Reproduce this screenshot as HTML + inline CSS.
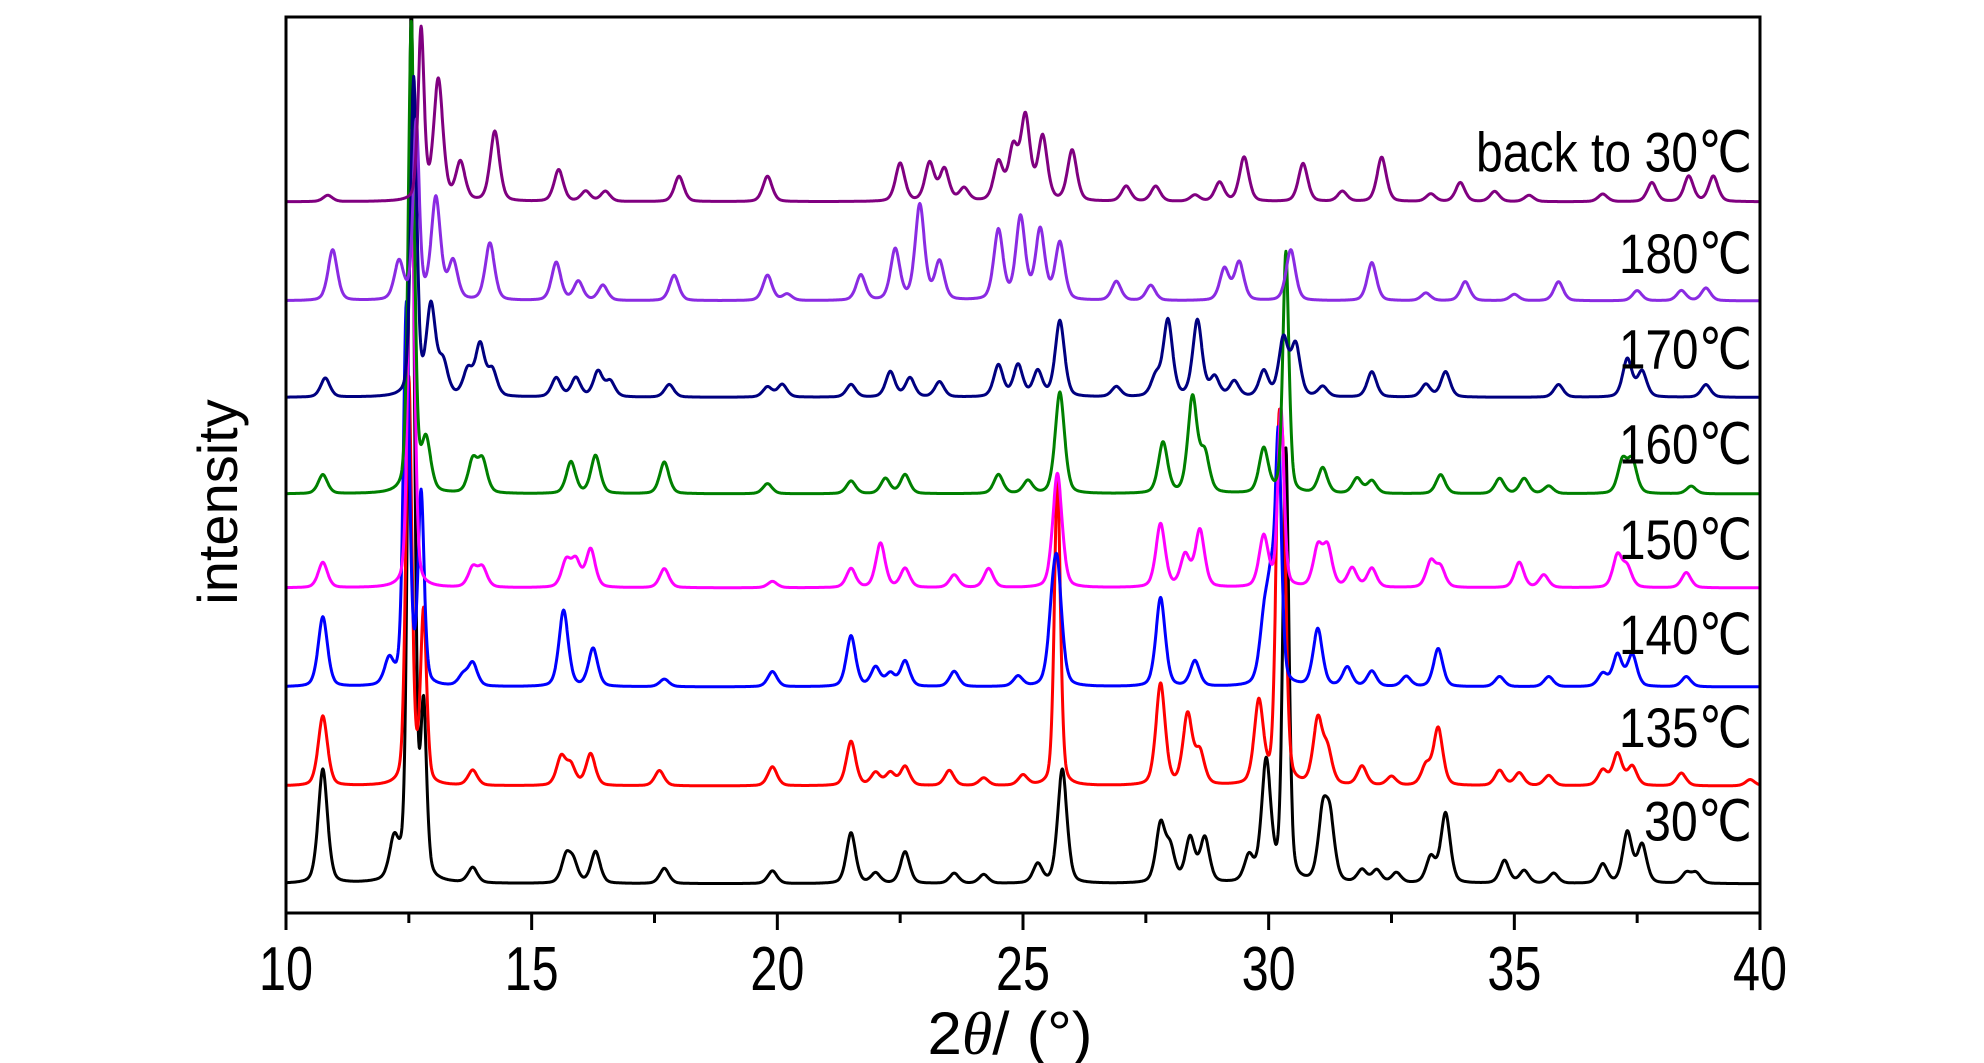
<!DOCTYPE html>
<html><head><meta charset="utf-8"><style>
html,body{margin:0;padding:0;background:#fff;}
svg{display:block;}
text{font-family:"Liberation Sans Narrow","Liberation Sans",sans-serif;fill:#000;}
</style></head><body>
<svg id="chart" width="1984" height="1063" viewBox="0 0 1984 1063" xmlns="http://www.w3.org/2000/svg">
<g id="series"></g>
<rect x="286" y="17" width="1474" height="896" fill="none" stroke="#000" stroke-width="3"/>
<g id="axis"></g>
<g id="labels"></g>
<text transform="translate(237,502) rotate(-90)" text-anchor="middle" font-size="56" style="font-family:'Liberation Sans',sans-serif">intensity</text>
<text x="1010" y="1054" text-anchor="middle" font-size="60" textLength="165" lengthAdjust="spacingAndGlyphs">2<tspan font-style="italic" style="font-family:'Liberation Serif',serif">θ</tspan>/ (°)</text>
</svg>
<script>
const xTicks = [10,15,20,25,30,35,40];
const seriesNames = ["30℃","135℃","140℃","150℃","160℃","170℃","180℃","back to 30℃"];
const seriesColors = ["#000000","#ff0000","#0000ff","#ff00ff","#008000","#000080","#8a2be2","#800080"];
const seriesOffsets = [23,100,178,256,330,406,482,560];
const peaks30 = [[10.75,90],[12.2,30],[12.55,690],[12.8,130],[13.8,12],[15.7,20],[15.85,15],[16.3,25],[17.7,12],[19.9,10],[21.5,40],[22.0,8],[22.6,25],[23.6,8],[24.2,7],[25.3,15],[25.8,90],[27.8,45],[28.0,25],[28.4,35],[28.7,35],[29.6,20],[29.95,95],[30.35,340],[31.1,50],[31.25,45],[31.9,10],[32.2,10],[32.6,8],[33.3,20],[33.6,55],[34.8,18],[35.2,10],[35.8,8],[36.8,15],[37.3,40],[37.6,30],[38.5,8],[38.7,8]];
const peaks135 = [[10.75,55],[12.5,320],[12.8,135],[13.8,12],[15.6,22],[15.8,15],[16.2,25],[17.6,12],[19.9,15],[21.5,35],[22.0,10],[22.3,10],[22.6,15],[23.5,12],[24.2,6],[25.0,8],[25.7,243],[27.8,80],[28.35,55],[28.6,25],[29.8,65],[30.2,225],[30.3,190],[31.0,50],[31.2,25],[31.9,15],[32.5,7],[33.2,15],[33.45,45],[34.7,12],[35.1,10],[35.7,8],[36.8,12],[37.1,25],[37.4,15],[38.4,10],[39.8,5]];
const peaks140 = [[10.75,55],[12.1,20],[12.45,300],[12.75,150],[13.6,8],[13.8,18],[15.65,60],[16.25,30],[17.7,6],[19.9,12],[21.5,40],[22.0,15],[22.3,10],[22.6,20],[23.6,12],[24.9,8],[25.6,40],[25.7,80],[27.8,70],[28.5,20],[29.9,40],[30.05,70],[30.2,180],[31.0,45],[31.6,15],[32.1,12],[32.8,8],[33.45,30],[34.7,8],[35.7,8],[36.8,10],[37.1,25],[37.4,25],[38.5,8]];
const peaks150 = [[10.75,20],[12.55,360],[13.8,15],[14.0,15],[15.7,20],[15.9,20],[16.2,30],[17.7,15],[19.9,5],[21.5,15],[22.1,35],[22.6,15],[23.6,10],[24.3,15],[25.7,90],[27.8,50],[28.3,25],[28.6,45],[29.9,40],[30.25,140],[31.0,30],[31.2,30],[31.7,15],[32.1,15],[33.3,20],[33.5,15],[35.1,20],[35.6,10],[37.1,25],[37.3,15],[38.5,12]];
const peaks160 = [[10.75,15],[12.55,370],[12.85,40],[13.8,25],[14.0,25],[15.8,25],[16.3,30],[17.7,25],[19.8,8],[21.5,10],[22.2,12],[22.6,15],[24.5,15],[25.1,10],[25.75,80],[27.85,40],[28.45,75],[28.7,30],[29.9,35],[30.35,190],[31.1,20],[31.8,12],[32.1,10],[33.5,15],[34.7,12],[35.2,12],[35.7,6],[37.2,25],[37.4,25],[38.6,6]];
const peaks170 = [[10.8,15],[12.6,250],[12.95,70],[13.2,25],[13.7,20],[13.95,40],[14.2,20],[15.5,15],[15.9,15],[16.35,20],[16.6,12],[17.8,10],[19.8,8],[20.1,10],[21.5,10],[22.3,20],[22.7,15],[23.3,12],[24.5,25],[24.9,25],[25.3,20],[25.75,60],[26.9,8],[27.7,15],[27.95,60],[28.55,60],[28.9,15],[29.3,12],[29.9,20],[30.3,45],[30.55,40],[31.1,8],[32.1,20],[33.2,10],[33.6,20],[35.9,10],[37.3,30],[37.6,20],[38.9,10]];
const peaks180 = [[10.95,40],[12.3,30],[12.65,140],[13.05,80],[13.4,30],[14.15,45],[15.5,30],[15.95,15],[16.45,12],[17.9,20],[19.8,20],[20.2,5],[21.7,20],[22.4,40],[22.9,75],[23.3,30],[24.5,55],[24.95,65],[25.35,55],[25.75,45],[26.9,15],[27.6,12],[29.1,25],[29.4,30],[30.45,40],[32.1,30],[33.2,6],[34.0,15],[35.0,5],[35.9,15],[37.5,8],[38.4,8],[38.9,10]];
const peaksBack = [[10.85,5],[12.75,135],[13.1,95],[13.55,30],[14.25,55],[15.55,25],[16.1,8],[16.5,8],[18.0,20],[19.8,20],[22.5,30],[23.1,30],[23.4,25],[23.8,10],[24.5,30],[24.8,40],[25.05,65],[25.4,50],[26.0,40],[27.1,12],[27.7,12],[28.5,5],[29.0,15],[29.5,35],[30.7,30],[31.5,8],[32.3,35],[33.3,6],[33.9,15],[34.6,8],[35.3,5],[36.8,6],[37.8,15],[38.55,20],[39.05,20]];
const allPeaks = [peaks30,peaks135,peaks140,peaks150,peaks160,peaks170,peaks180,peaksBack];
const labelY = [662,588,515,440,365,290,215,135];

const X0=286,X1=1760,Y0=17,Y1=913, SY=1.27;
function xs(v){return X0+(v-10)/30*(X1-X0);}
function ys(v,off){return Y1-(v+off)*SY;}
const NS="http://www.w3.org/2000/svg";
const sg=document.getElementById('series');
allPeaks.forEach((pk,i)=>{
  let d="";
  for(let x=10;x<=40.0001;x+=0.01){
    let v=0;
    pk.forEach(p=>{const w=(p[1]>100?0.065:0.1);const t=(x-p[0])/w;v+=p[1]*(0.6*Math.exp(-t*t/2)+0.4/(1+t*t));});
    let y=Math.max(ys(v,seriesOffsets[i]),Y0);
    d+=(d?"L":"M")+xs(x).toFixed(1)+","+y.toFixed(1);
  }
  const p=document.createElementNS(NS,'path');
  
  
  p.setAttribute('d',d);p.setAttribute('fill','none');
  p.setAttribute('stroke',seriesColors[i]);p.setAttribute('stroke-width','3');
  p.setAttribute('stroke-linejoin','round');
  sg.appendChild(p);
  const t=document.createElementNS(NS,'text');
  
  
  t.setAttribute('x',1752);t.setAttribute('y',labelY[i]*1.27);
  t.setAttribute('text-anchor','end');t.setAttribute('font-size','56');
  const len = seriesNames[i].length>6 ? 276 : (seriesNames[i].length===3 ? 108 : 133);
  t.setAttribute('textLength',len);t.setAttribute('lengthAdjust','spacingAndGlyphs');
  t.textContent=seriesNames[i];
  document.getElementById('labels').appendChild(t);
});
const ax=document.getElementById('axis');
for(let v=10;v<=40;v+=2.5){
  const major=(v%5===0);
  const l=document.createElementNS(NS,'line');
  
  
  l.setAttribute('x1',xs(v));l.setAttribute('x2',xs(v));
  l.setAttribute('y1',Y1);l.setAttribute('y2',Y1+(major?17:10));
  l.setAttribute('stroke','#000');l.setAttribute('stroke-width','3');
  ax.appendChild(l);
}
xTicks.forEach(v=>{
  const t=document.createElementNS(NS,'text');
  
  
  t.setAttribute('x',xs(v));t.setAttribute('y',990);
  t.setAttribute('text-anchor','middle');t.setAttribute('font-size','62');
  t.setAttribute('textLength','54');t.setAttribute('lengthAdjust','spacingAndGlyphs');
  t.textContent=v;ax.appendChild(t);
});
</script>
</body></html>
